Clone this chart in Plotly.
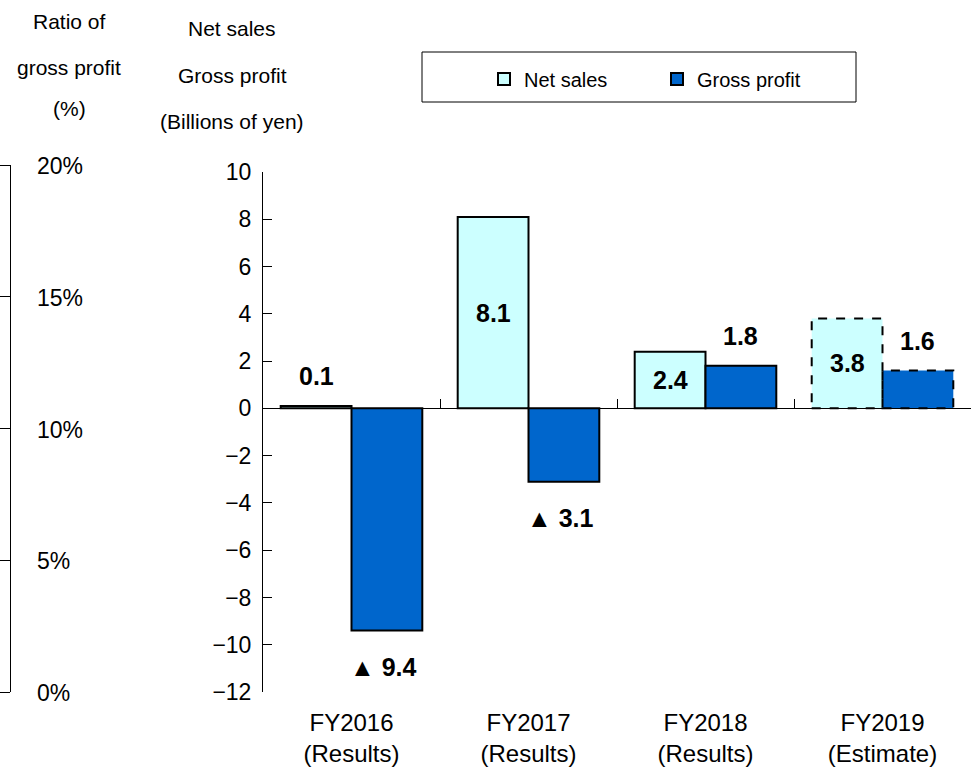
import plotly.graph_objects as go

# ---------------- data ----------------
categories = ["FY2016<br>(Results)", "FY2017<br>(Results)", "FY2018<br>(Results)", "FY2019<br>(Estimate)"]
net_sales = [0.1, 8.1, 2.4, 3.8]
gross_profit = [-9.4, -3.1, 1.8, 1.6]
is_estimate = [False, False, False, True]
y_ticks = [10, 8, 6, 4, 2, 0, -2, -4, -6, -8, -10, -12]
ratio_ticks = [0, 5, 10, 15, 20]
ratio_labels = ["0%", "5%", "10%", "15%", "20%"]

# ---------------- layout geometry (page pixels) ----------------
W, H = 980, 768
ML, MR, MT, MB = 10, 9, 160, 76
PW, PH = W - ML - MR, H - MT - MB
def px(x):
    return (x - ML) / PW
def py(y):
    return (H - MB - y) / PH

PLOT_TOP, PLOT_BOTTOM, PLOT_LEFT = 172, 692, 263
RATIO_TOP = 165
YMIN, YMAX = min(y_ticks), max(y_ticks)
ydom = [py(PLOT_BOTTOM), py(PLOT_TOP)]
y2dom = [py(PLOT_BOTTOM), py(RATIO_TOP)]
idx = list(range(len(categories)))
BARW = 0.4

NS_COLOR = "#CCFFFF"
GP_COLOR = "#0066CC"
FONT = "Liberation Sans, Arial, sans-serif"

fig = go.Figure()
fig.add_trace(go.Bar(
    x=idx, y=net_sales, name="Net sales",
    marker=dict(color=NS_COLOR, line=dict(color="black", width=[0 if e else 2 for e in is_estimate])),
))
fig.add_trace(go.Bar(
    x=idx, y=gross_profit, name="Gross profit",
    marker=dict(color=GP_COLOR, line=dict(color="black", width=[0 if e else 2 for e in is_estimate])),
))
# dummy traces so the auxiliary axes get drawn
fig.add_trace(go.Scatter(x=[None], y=[None], yaxis="y2", showlegend=False, hoverinfo="skip"))
fig.add_trace(go.Scatter(x=[None], y=[None], xaxis="x2", showlegend=False, hoverinfo="skip"))

shapes = []
for i, est in enumerate(is_estimate):
    if est:
        shapes.append(dict(type="rect", xref="x", yref="y", x0=i - BARW, x1=i, y0=0, y1=net_sales[i],
                           line=dict(color="black", width=2, dash="dash"), layer="above"))
        shapes.append(dict(type="rect", xref="x", yref="y", x0=i, x1=i + BARW, y0=0, y1=gross_profit[i],
                           line=dict(color="black", width=2, dash="dash"), layer="above"))
# legend frame
shapes.append(dict(type="rect", xref="paper", yref="paper", x0=px(422), x1=px(856), y0=py(102), y1=py(52),
                   line=dict(color="black", width=1), fillcolor="white", layer="below"))

annotations = []
unit_px = (PLOT_BOTTOM - PLOT_TOP) / (YMAX - YMIN)
def fmt(v):
    return ("▲ %.1f" % abs(v)) if v < 0 else ("%.1f" % v)
label_font = dict(family=FONT, size=25, color="black")
for series, off, allow_inside in ((net_sales, -BARW / 2, True), (gross_profit, BARW / 2, False)):
    for i, v in enumerate(series):
        if allow_inside and abs(v) * unit_px > 45:
            annotations.append(dict(x=i + off, y=v / 2, xref="x", yref="y", text="<b>" + fmt(v) + "</b>",
                                    showarrow=False, font=label_font, yanchor="middle"))
        else:
            annotations.append(dict(x=i + off, y=v, xref="x", yref="y", text="<b>" + fmt(v) + "</b>",
                                    showarrow=False, font=label_font, yanchor="middle",
                                    yshift=30 if v >= 0 else -36, xshift=0 if v >= 0 else -3))

# ratio axis labels
for t, lab in zip(ratio_ticks, ratio_labels):
    annotations.append(dict(x=0, y=t, xref="paper", yref="y2", text=lab, showarrow=False,
                            xanchor="left", yanchor="middle", xshift=25, yshift=-1,
                            font=dict(family=FONT, size=23, color="black")))

title_font = dict(family=FONT, size=21, color="black")
for txt, cx, cy in (("Ratio of", 69, 21), ("gross profit", 69, 67), ("(%)", 69, 109),
                    ("Net sales", 232, 29), ("Gross profit", 232, 75), ("(Billions of yen)", 232, 121)):
    annotations.append(dict(x=px(cx), y=py(cy), xref="paper", yref="paper", text=txt, showarrow=False,
                            font=title_font, xanchor="center", yanchor="middle"))

fig.update_layout(
    width=W, height=H, autosize=False,
    margin=dict(l=ML, r=MR, t=MT, b=MB, pad=0, autoexpand=False),
    paper_bgcolor="white", plot_bgcolor="rgba(0,0,0,0)",
    barmode="group", bargap=0.2, bargroupgap=0,
    showlegend=True,
    legend=dict(orientation="h", x=px(484), y=py(79), xanchor="left", yanchor="middle",
                font=dict(family=FONT, size=20, color="black"), bgcolor="rgba(0,0,0,0)",
                entrywidth=128, itemclick=False),
    shapes=shapes, annotations=annotations,
    xaxis=dict(domain=[px(PLOT_LEFT), 1], range=[-0.5, len(categories) - 0.5], automargin=False,
               tickvals=idx, ticktext=categories, showline=False, showgrid=False, zeroline=False,
               ticks="", ticklabelstandoff=14,
               tickfont=dict(family=FONT, size=24, color="black")),
    xaxis2=dict(overlaying="x", anchor="free", automargin=False,
                position=ydom[0] + (ydom[1] - ydom[0]) * (0 - YMIN) / (YMAX - YMIN),
                domain=[px(PLOT_LEFT), 1], range=[-0.5, len(categories) - 0.5],
                tickvals=[i + 0.5 for i in idx], ticks="inside", ticklen=9, tickcolor="black",
                showticklabels=False, showline=True, linecolor="black", linewidth=1,
                showgrid=False, zeroline=False, side="bottom"),
    yaxis=dict(domain=ydom, range=[YMIN, YMAX], tickvals=y_ticks, ticks="inside", ticklen=9,
               tickcolor="black", automargin=False,
               showline=True, linecolor="black", linewidth=1, showgrid=False, zeroline=False,
               tickfont=dict(family=FONT, size=23, color="black"), ticklabelstandoff=6),
    yaxis2=dict(anchor="free", position=0, side="left", domain=y2dom, range=[0, 20], automargin=False,
                tickvals=ratio_ticks, ticks="outside", ticklen=10, tickcolor="black",
                showticklabels=False,
                showline=True, linecolor="black", linewidth=1, showgrid=False, zeroline=False),
)

fig.write_html("out.html", config={"displayModeBar": False, "staticPlot": True},
               post_script="document.body.style.margin='0';")
